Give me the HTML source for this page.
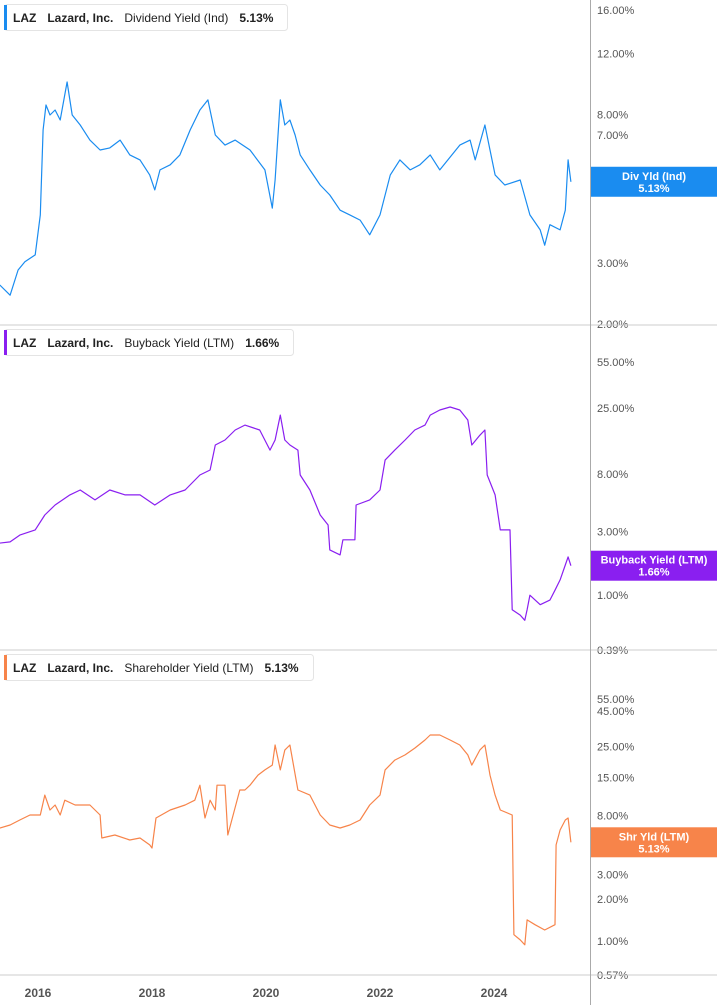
<!DOCTYPE html>
<html><head><meta charset="utf-8"><style>
body{margin:0;background:#fff;font-family:"Liberation Sans",sans-serif;}
svg{display:block}
</style></head><body>
<svg id="c" width="717" height="1005"></svg>
<script>
const dates1=[2015.33,2015.51,2015.65,2015.77,2015.95,2016.04,2016.09,2016.14,2016.21,2016.30,2016.39,2016.51,2016.60,2016.74,2016.91,2017.09,2017.26,2017.44,2017.61,2017.79,2017.96,2018.05,2018.14,2018.32,2018.49,2018.67,2018.84,2018.98,2019.11,2019.28,2019.46,2019.72,2019.98,2020.11,2020.16,2020.25,2020.33,2020.42,2020.51,2020.60,2020.77,2020.95,2021.12,2021.30,2021.47,2021.65,2021.82,2022.00,2022.18,2022.35,2022.53,2022.70,2022.88,2023.05,2023.40,2023.58,2023.67,2023.84,2023.93,2024.02,2024.19,2024.46,2024.63,2024.81,2024.89,2024.98,2025.16,2025.25,2025.30,2025.35];
const divYield=[2.59,2.42,2.86,3.02,3.16,4.12,7.23,8.53,7.98,8.25,7.72,9.93,7.98,7.47,6.76,6.33,6.42,6.76,6.13,5.93,5.37,4.86,5.55,5.74,6.13,7.23,8.25,8.82,6.99,6.54,6.76,6.33,5.55,4.31,5.19,8.82,7.47,7.72,6.99,6.13,5.55,5.02,4.70,4.25,4.12,3.98,3.61,4.12,5.37,5.93,5.55,5.74,6.13,5.55,6.54,6.76,5.93,7.47,6.33,5.37,5.02,5.19,4.12,3.73,3.37,3.86,3.73,4.25,5.93,5.13];
const dates2=[2015.33,2015.51,2015.68,2015.95,2016.12,2016.30,2016.56,2016.74,2017.00,2017.26,2017.53,2017.79,2018.05,2018.32,2018.58,2018.84,2019.02,2019.11,2019.28,2019.46,2019.63,2019.89,2020.07,2020.16,2020.25,2020.33,2020.42,2020.56,2020.60,2020.77,2020.95,2021.09,2021.12,2021.30,2021.35,2021.47,2021.56,2021.58,2021.82,2022.00,2022.09,2022.26,2022.44,2022.61,2022.79,2022.88,2023.05,2023.23,2023.40,2023.54,2023.61,2023.75,2023.84,2023.88,2024.02,2024.11,2024.28,2024.32,2024.46,2024.54,2024.58,2024.63,2024.81,2024.98,2025.07,2025.16,2025.25,2025.30,2025.35];
const buybackYield=[2.45,2.50,2.81,3.07,3.97,4.71,5.60,6.10,5.14,6.10,5.60,5.60,4.71,5.60,6.10,7.89,8.60,13.2,14.4,17.1,18.6,17.1,12.1,14.4,22.1,14.4,13.2,12.1,7.89,6.10,3.97,3.34,2.18,2.00,2.59,2.59,2.59,4.71,5.14,6.10,10.2,12.1,14.4,17.1,18.6,22.1,24.1,25.4,24.1,20.3,13.2,15.6,17.1,7.89,5.60,3.07,3.07,0.78,0.71,0.65,0.78,1.00,0.85,0.92,1.09,1.30,1.68,1.93,1.66];
const dates3=[2015.33,2015.51,2015.68,2015.86,2016.04,2016.12,2016.21,2016.30,2016.39,2016.47,2016.65,2016.91,2017.09,2017.12,2017.35,2017.61,2017.79,2017.96,2018.00,2018.07,2018.32,2018.58,2018.75,2018.84,2018.93,2019.02,2019.11,2019.14,2019.28,2019.33,2019.54,2019.63,2019.72,2019.86,2019.98,2020.11,2020.16,2020.25,2020.33,2020.42,2020.56,2020.77,2020.95,2021.12,2021.30,2021.47,2021.65,2021.82,2022.00,2022.09,2022.26,2022.44,2022.61,2022.79,2022.88,2023.05,2023.23,2023.40,2023.54,2023.61,2023.75,2023.84,2023.93,2024.02,2024.11,2024.32,2024.35,2024.46,2024.54,2024.58,2024.72,2024.89,2025.07,2025.09,2025.16,2025.25,2025.30,2025.35];
const shrYield=[6.50,6.83,7.42,8.06,8.06,11.2,8.75,9.51,8.06,10.3,9.51,9.51,8.06,5.51,5.79,5.33,5.51,4.91,4.67,7.67,8.75,9.51,10.3,13.2,7.67,10.3,8.75,13.2,13.2,5.79,12.2,12.2,13.2,15.6,17.0,18.4,25.7,17.0,23.6,25.7,12.2,11.2,8.06,6.83,6.50,6.83,7.42,9.51,11.2,17.0,20.0,21.8,24.4,27.9,30.3,30.3,27.9,25.7,21.8,18.4,23.6,25.7,15.6,11.2,8.75,8.06,1.11,1.02,0.94,1.42,1.31,1.20,1.31,4.91,6.29,7.42,7.67,5.13];
const ticks1=[16,12,8,7,3,2];
const ticks2=[55,25,8,3,1,0.39];
const ticks3=[55,45,25,15,8,3,2,1,0.57];
const xTicks=[2016,2018,2020,2022,2024];

const NS="http://www.w3.org/2000/svg";
const svg=document.getElementById('c');
function mk(t,a,p){const e=document.createElementNS(NS,t);for(const k in a)e.setAttribute(k,a[k]);(p||svg).appendChild(e);return e;}
const xS=d=>38+(d-2016)*57;
const panels=[
 {top:10,bot:324,max:16,min:2,dates:dates1,vals:divYield,ticks:ticks1,color:"#1a8cf0",name:"Dividend Yield (Ind)",tag:"Div Yld (Ind)",lw:283,key:"dividend"},
 {top:362,bot:650,max:55,min:0.39,dates:dates2,vals:buybackYield,ticks:ticks2,color:"#8a1ff0",name:"Buyback Yield (LTM)",tag:"Buyback Yield (LTM)",lw:289,key:"buyback"},
 {top:699,bot:975,max:55,min:0.57,dates:dates3,vals:shrYield,ticks:ticks3,color:"#f7844a",name:"Shareholder Yield (LTM)",tag:"Shr Yld (LTM)",lw:309,key:"shareholder"}
];
panels.forEach((p,i)=>{
 const y=v=>p.top+(p.bot-p.top)*Math.log(p.max/v)/Math.log(p.max/p.min);
 const g=mk('g',{});
 
 
 p.ticks.forEach(t=>{
  const tx=mk('text',{x:597,y:y(t)+4,'font-size':11,fill:'#555'},g);
  tx.textContent=t.toFixed(2)+'%';
  
  
 });
 const pts=p.dates.map((d,j)=>xS(d).toFixed(1)+','+y(p.vals[j]).toFixed(1)).join(' ');
 const pl=mk('polyline',{points:pts,fill:'none',stroke:p.color,'stroke-width':1.2,'stroke-linejoin':'round'},g);
 
 
 const last=p.vals[p.vals.length-1];
 const ty=y(last);
 const tg=mk('g',{},g);
 
 
 mk('rect',{x:591,y:ty-15,width:126,height:30,fill:p.color},tg);
 const t1=mk('text',{x:654,y:ty-2,'font-size':11,'font-weight':'bold',fill:'#fff','text-anchor':'middle'},tg);t1.textContent=p.tag;
 const t2=mk('text',{x:654,y:ty+10,'font-size':11,'font-weight':'bold',fill:'#fff','text-anchor':'middle'},tg);t2.textContent=last.toFixed(2)+'%';
 const ly=[4,329,654][i];
 const lg=mk('g',{},g);
 
 
 mk('rect',{x:4.5,y:ly+0.5,width:p.lw,height:26,rx:3,fill:'#fff',stroke:'#e4e4e4'},lg);
 mk('rect',{x:4,y:ly+1,width:3,height:25,fill:p.color},lg);
 const lt=mk('text',{x:13,y:ly+18,'font-size':12,'font-weight':'bold',fill:'#222'},lg);
 lt.innerHTML='LAZ<tspan dx="11">Lazard, Inc.</tspan><tspan dx="11" font-weight="normal">'+p.name+'</tspan><tspan dx="11">'+last.toFixed(2)+'%</tspan>';
});
[325,650,975].forEach(yy=>{const l=mk('line',{x1:0,x2:717,y1:yy,y2:yy,stroke:'#ccc'});});
const vl=mk('line',{x1:590.5,x2:590.5,y1:0,y2:1005,stroke:'#aaa'});


xTicks.forEach(t=>{
 const tx=mk('text',{x:xS(t),y:997,'font-size':12,'font-weight':'bold',fill:'#555','text-anchor':'middle'});
 tx.textContent=t;
 
 
});
</script>
</body></html>
